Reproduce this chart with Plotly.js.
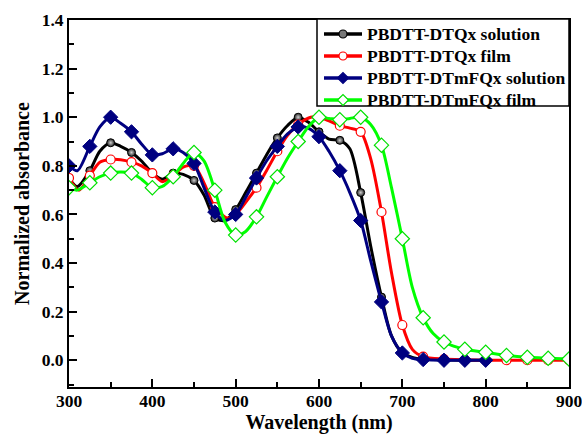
<!DOCTYPE html>
<html><head><meta charset="utf-8">
<script src="https://cdn.plot.ly/plotly-3.0.1.min.js"></script>
<style>html,body{margin:0;padding:0;background:#fff}#chart{width:582px;height:434px}</style>
</head><body><div id="chart"></div>
<script>
const seriesNames = ["PBDTT-DTQx solution", "PBDTT-DTQx film", "PBDTT-DTmFQx solution", "PBDTT-DTmFQx film"];

const wlDTQxSol = [300,310,325,337,350,362,375,387,400,412,425,437,450,462,475,487,500,512,525,537,550,562,575,587,600,612,625,637,650,662,675,687,700,712,725,750,775,800];
const absDTQxSol = [0.75,0.715,0.78,0.86,0.895,0.88,0.855,0.82,0.77,0.745,0.77,0.765,0.74,0.68,0.585,0.575,0.62,0.69,0.77,0.845,0.915,0.965,1.0,0.98,0.94,0.91,0.905,0.87,0.69,0.47,0.26,0.10,0.03,0.012,0.005,0.002,0.0,0.0];

const wlDTQxFilm = [300,312,325,337,350,362,375,387,400,412,425,437,450,462,475,490,500,512,525,537,550,562,575,590,600,612,625,637,650,662,675,687,700,712,725,750,775,800,825,850,875,900];
const absDTQxFilm = [0.75,0.70,0.76,0.815,0.826,0.825,0.815,0.80,0.77,0.735,0.76,0.795,0.80,0.73,0.63,0.585,0.60,0.65,0.71,0.78,0.86,0.925,0.97,1.0,1.0,0.985,0.965,0.955,0.94,0.83,0.61,0.36,0.145,0.045,0.015,0.005,0.002,0.0,0.0,0.0,0.0,0.0];

const wlDTmFQxSol = [300,310,325,337,350,362,375,387,400,412,425,437,450,462,475,487,500,512,525,537,550,562,575,587,600,612,625,637,650,662,675,687,700,712,725,750,775,800];
const absDTmFQxSol = [0.80,0.78,0.88,0.96,1.0,0.975,0.94,0.89,0.845,0.85,0.87,0.855,0.81,0.71,0.61,0.575,0.60,0.67,0.75,0.82,0.88,0.93,0.96,0.955,0.92,0.86,0.78,0.69,0.575,0.41,0.24,0.10,0.03,0.008,0.003,0.0,0.0,0.0];

const wlDTmFQxFilm = [300,310,325,337,350,362,375,387,400,412,425,437,450,462,475,487,500,512,525,537,550,562,575,587,600,612,625,637,650,662,675,687,700,712,725,737,750,775,800,825,850,875,900];
const absDTmFQxFilm = [0.71,0.70,0.73,0.755,0.77,0.775,0.77,0.745,0.71,0.715,0.755,0.81,0.855,0.82,0.70,0.57,0.515,0.53,0.59,0.67,0.755,0.83,0.90,0.96,1.0,0.995,0.99,0.995,1.0,0.97,0.885,0.71,0.50,0.30,0.175,0.11,0.075,0.045,0.033,0.02,0.012,0.008,0.005];

const xTicks = [300,400,500,600,700,800,900];
const yTicks = [0.0,0.2,0.4,0.6,0.8,1.0,1.2,1.4];

const FONT = "Liberation Serif, 'Times New Roman', Times, serif";
const W = 582, H = 434;
const M = {l:69, r:13, t:20, b:47};

const styles = [
  {color:'#000000', marker:{symbol:'circle', size:8, color:'#222222', gradient:{type:'radial', color:'#d0d0d0'}, line:{color:'#000000', width:1}}, legFill:'#777777', legLine:'#000000'},
  {color:'#FF0000', marker:{symbol:'circle', size:9, color:'#ffffff', line:{color:'#FF0000', width:1.2}}, legFill:'#ffffff', legLine:'#FF0000'},
  {color:'#000080', marker:{symbol:'diamond', size:11, color:'#000080', line:{color:'#000080', width:1}}, legFill:'#000080', legLine:'#000080'},
  {color:'#00FF00', marker:{symbol:'diamond', size:11, color:'#ffffff', line:{color:'#00E000', width:1.2}}, legFill:'#ffffff', legLine:'#00E000'}
];
const sets = [[wlDTQxSol,absDTQxSol],[wlDTQxFilm,absDTQxFilm],[wlDTmFQxSol,absDTmFQxSol],[wlDTmFQxFilm,absDTmFQxFilm]];

const traces = [];
sets.forEach((s, i) => {
  const [wl, ab] = s;
  const mx = [], my = [];
  wl.forEach((w, k) => { if (w % 25 === 0) { mx.push(w); my.push(ab[k]); } });
  traces.push({x: wl, y: ab, mode:'lines', type:'scatter', showlegend:false, hoverinfo:'skip', name: seriesNames[i],
    line:{color:styles[i].color, width:3, shape:'spline', smoothing:0.8}});
  traces.push({x: mx, y: my, mode:'markers', type:'scatter', showlegend:false, name: seriesNames[i],
    marker: styles[i].marker});
});

// legend drawn as shapes + annotations (pixel layout converted to paper coords)
const pw = W - M.l - M.r, ph = H - M.t - M.b;
const px2x = p => (p - M.l) / pw;
const py2y = p => 1 - (p - M.t) / ph;
const legBox = {x0:317, x1:569, y0:19, y1:106};
const legRows = [34, 56, 78, 100];
const legLineX = [324, 362], legMarkX = 343, legTextX = 365;

const shapes = [{type:'rect', xref:'paper', yref:'paper', x0:px2x(legBox.x0), x1:px2x(legBox.x1), y0:py2y(legBox.y1), y1:py2y(legBox.y0),
  line:{color:'#000', width:1.5}, fillcolor:'#fff', layer:'above'}];
const annotations = [];
seriesNames.forEach((n, i) => {
  const yy = py2y(legRows[i]);
  shapes.push({type:'line', xref:'paper', yref:'paper', x0:px2x(legLineX[0]), x1:px2x(legLineX[1]), y0:yy, y1:yy,
    line:{color:styles[i].color, width:3.5}});
  if (styles[i].marker.symbol === 'circle') {
    shapes.push({type:'circle', xref:'paper', yref:'paper', xsizemode:'pixel', ysizemode:'pixel',
      xanchor:px2x(legMarkX), yanchor:yy, x0:-4, x1:4, y0:-4, y1:4,
      fillcolor:styles[i].legFill, line:{color:styles[i].legLine, width:1.2}});
  } else {
    shapes.push({type:'path', xref:'paper', yref:'paper', xsizemode:'pixel', ysizemode:'pixel',
      xanchor:px2x(legMarkX), yanchor:yy, path:'M -5.5 0 L 0 5.5 L 5.5 0 L 0 -5.5 Z',
      fillcolor:styles[i].legFill, line:{color:styles[i].legLine, width:1.2}});
  }
  annotations.push({xref:'paper', yref:'paper', x:px2x(legTextX), y:yy, xanchor:'left', yanchor:'middle',
    showarrow:false, text:'<b>' + n + '</b>', font:{family:FONT, size:17.5, color:'#000'}});
});

const axisCommon = {
  showline:true, linecolor:'#000', linewidth:2, mirror:true,
  ticks:'inside', ticklen:8, tickwidth:2, tickcolor:'#000',
  showgrid:false, zeroline:false, ticklabeloverflow:'allow',
  tickfont:{family:FONT, size:17.5, color:'#000', weight:'bold'}
};

const layout = {
  width:W, height:H,
  margin:M,
  paper_bgcolor:'#fff', plot_bgcolor:'#fff',
  font:{family:FONT, color:'#000'},
  xaxis: Object.assign({}, axisCommon, {
    range:[300,900], tickvals:xTicks, ticktext:xTicks.map(String), ticklabelstandoff:-3,
    minor:{ticks:'inside', dtick:50, tick0:300, ticklen:5, tickwidth:2, tickcolor:'#000'},
    title:{text:'<b>Wavelength (nm)</b>', font:{family:FONT, size:20, color:'#000'}, standoff:6}
  }),
  yaxis: Object.assign({}, axisCommon, {
    range:[-0.11,1.4], tickvals:yTicks, ticktext:yTicks.map(v=>v.toFixed(1)),
    minor:{ticks:'inside', dtick:0.1, tick0:0, ticklen:5, tickwidth:2, tickcolor:'#000'},
    title:{text:'<b>Normalized absorbance</b>', font:{family:FONT, size:20, color:'#000'}, standoff:7}
  }),
  shapes: shapes,
  annotations: annotations,
  showlegend:false
};

Plotly.newPlot('chart', traces, layout, {staticPlot:true, displayModeBar:false});
</script></body></html>
